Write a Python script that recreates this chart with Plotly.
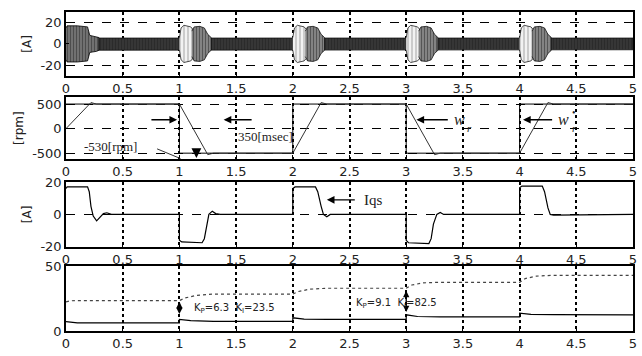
import plotly.graph_objects as go
from plotly.subplots import make_subplots

# ---------------- data ----------------
x_ticks = [0, 0.5, 1, 1.5, 2, 2.5, 3, 3.5, 4, 4.5, 5]
x_ticklabels = ["0", "0.5", "1", "1.5", "2", "2.5", "3", "3.5", "4", "4.5", "5"]

# phase current envelope (A)
steady_t = [0.0, 0.3, 1.0, 1.3, 2.0, 2.3, 3.0, 3.3, 4.0, 4.3, 5.0]
steady_amp = [6.0, 5.5, 5.5, 5.5, 5.5, 5.5, 5.5, 5.5, 5.5, 5.5, 5.5]
start_off = [0.0, 0.01, 0.1, 0.19, 0.21, 0.27, 0.29]
start_amp = [15.0, 17.0, 17.0, 16.0, 8.0, 7.0, 6.0]
trans_start = [1.0, 2.0, 3.0, 4.0]
lobe_off = [0.0, 0.015, 0.04, 0.07, 0.1, 0.125]
lobe_amp = [6.0, 15.0, 17.5, 17.0, 16.0, 13.0]
dense_off = [0.11, 0.13, 0.18, 0.22, 0.25, 0.28]
dense_amp = [12.0, 16.0, 16.5, 15.0, 9.0, 6.0]

# speed (rpm)
wref_t = [0, 1, 1, 2, 2, 3, 3, 4, 4, 5]
wref = [500, 500, -500, -500, 500, 500, -500, -500, 500, 500]
w_t = [0, 0.22, 0.27, 1.0, 1.25, 1.3, 2.0, 2.25, 2.3, 3.0, 3.25, 3.3, 4.0, 4.25, 4.3, 5.0]
w = [0, 530, 500, 500, -530, -500, -500, 530, 500, 500, -530, -500, -500, 530, 500, 500]

# q-axis current (A)
iqs_t = [0, 0.01, 0.19, 0.205, 0.22, 0.24, 0.27, 0.3, 0.33, 0.36, 0.4,
         1.0, 1.0, 1.02, 1.2, 1.22, 1.24, 1.26, 1.29, 1.32, 1.36,
         2.0, 2.0, 2.02, 2.2, 2.22, 2.25, 2.27, 2.3, 2.33,
         3.0, 3.0, 3.02, 3.2, 3.22, 3.24, 3.27, 3.3, 3.33,
         4.0, 4.0, 4.02, 4.2, 4.22, 4.25, 4.27, 4.3, 5.0]
iqs = [16, 17, 17, 14, 5, -1, -4, -2, 0.5, 1, 0,
       0, -16, -17, -17.5, -15, -6, 0, 2, 0.5, 0,
       0, 16, 17, 17, 14, 5, 0, -1.5, 0,
       0, -16, -17.5, -18, -15, -6, 0, 1.2, 0,
       0, 16.5, 17.5, 17.5, 14, 4, 0, -0.5, 0]

# controller gains
kp_t = [0, 0.03, 0.1, 1.0, 1.0, 1.1, 1.3, 2.0, 2.0, 2.1, 2.3, 3.0, 3.0, 3.1, 3.3, 4.0, 4.0, 4.1, 4.3, 5.0]
kp = [7.2, 6.8, 6.3, 6.3, 9.0, 8.0, 7.5, 7.5, 10.2, 9.2, 8.9, 8.9, 12.5, 11.2, 10.9, 10.9, 13.8, 12.9, 12.6, 12.4]
ki_t = [0, 0.04, 0.1, 1.0, 1.05, 1.15, 1.3, 2.0, 2.05, 2.15, 2.3, 3.0, 3.05, 3.15, 3.3, 4.0, 4.05, 4.15, 4.3, 5.0]
ki = [22.5, 23.3, 23.5, 23.5, 25.5, 27.5, 28.5, 28.5, 30.5, 32.3, 33, 33, 35.5, 37.2, 37.6, 37.6, 40.5, 42.4, 43, 43]

# ---------------- figure ----------------
fig = make_subplots(rows=4, cols=1)


def band(tt, aa):
    xs = list(tt) + list(tt)[::-1]
    ys = list(aa) + [-a for a in list(aa)[::-1]]
    return xs, ys


# subplot 1: phase currents
bx, by = band(steady_t, steady_amp)
fig.add_trace(go.Scatter(x=bx, y=by, fill="toself", mode="lines",
                         line=dict(color="#111", width=0.8),
                         fillpattern=dict(shape="|", fgcolor="#111", bgcolor="#444",
                                          size=3, solidity=0.7),
                         hoverinfo="skip"), row=1, col=1)
bx, by = band(start_off, start_amp)
fig.add_trace(go.Scatter(x=bx, y=by, fill="toself", mode="lines",
                         line=dict(color="black", width=0.8),
                         fillpattern=dict(shape="|", fgcolor="#111", bgcolor="#888",
                                          size=3, solidity=0.6),
                         hoverinfo="skip"), row=1, col=1)
for s in trans_start:
    bx, by = band([s + o for o in lobe_off], lobe_amp)
    fig.add_trace(go.Scatter(x=bx, y=by, fill="toself", mode="lines",
                             line=dict(color="#222", width=0.8),
                             fillpattern=dict(shape="|", fgcolor="#555", bgcolor="#f2f2f2",
                                              size=4, solidity=0.25),
                             hoverinfo="skip"), row=1, col=1)
    bx, by = band([s + o for o in dense_off], dense_amp)
    fig.add_trace(go.Scatter(x=bx, y=by, fill="toself", mode="lines",
                             line=dict(color="black", width=0.7),
                             fillpattern=dict(shape="|", fgcolor="#111", bgcolor="#999",
                                              size=3, solidity=0.55),
                             hoverinfo="skip"), row=1, col=1)

# subplot 2: speed
fig.add_trace(go.Scatter(x=wref_t, y=wref, mode="lines",
                         line=dict(color="black", width=1.0)), row=2, col=1)
fig.add_trace(go.Scatter(x=w_t, y=w, mode="lines",
                         line=dict(color="#333", width=1.0)), row=2, col=1)

# subplot 3: iqs
fig.add_trace(go.Scatter(x=iqs_t, y=iqs, mode="lines",
                         line=dict(color="black", width=1.2)), row=3, col=1)

# subplot 4: gains
fig.add_trace(go.Scatter(x=ki_t, y=ki, mode="lines",
                         line=dict(color="#444", width=1.2, dash="dot")), row=4, col=1)
fig.add_trace(go.Scatter(x=kp_t, y=kp, mode="lines",
                         line=dict(color="black", width=1.2)), row=4, col=1)

# ---------------- axes ----------------
domains = [[0.80, 1.0], [0.539, 0.733], [0.264, 0.467], [0.0, 0.203]]
y_ranges = [[-30, 30], [-620, 640], [-20, 20], [0, 50]]
y_ticks = [[-20, 0, 20], [-500, 0, 500], [-20, 0, 20], [0, 50]]
y_titles = ["[A]", "[rpm]", "[A]", ""]

tickfont = dict(family="DejaVu Sans", size=13, color="#222")
for i in range(4):
    fig.update_xaxes(row=i + 1, col=1, range=[0, 5], tickvals=x_ticks, ticktext=x_ticklabels,
                     showgrid=True, gridcolor="black", griddash="dot", gridwidth=1.6,
                     showline=True, mirror=True, linecolor="black", linewidth=1.5,
                     ticks="inside", ticklen=4, tickcolor="black", zeroline=False,
                     tickfont=tickfont, ticklabeloverflow="allow")
    fig.update_yaxes(row=i + 1, col=1, domain=domains[i], range=y_ranges[i],
                     tickvals=y_ticks[i], ticktext=[str(v) for v in y_ticks[i]],
                     showgrid=True, gridcolor="black", griddash="dash", gridwidth=1,
                     showline=True, mirror=True, linecolor="black", linewidth=1.5,
                     ticks="inside", ticklen=3, tickcolor="black", zeroline=False,
                     tickfont=tickfont,
                     title=dict(text=y_titles[i], font=dict(family="DejaVu Sans", size=12, color="#222"),
                                standoff=6))

# ---------------- annotations ----------------
serif = dict(family="Liberation Serif", size=13, color="#222")
ann = []


def arrow(xref, yref, x, y, ax, ay, side="end", size=1.1):
    ann.append(dict(xref=xref, yref=yref, axref=xref, ayref=yref, x=x, y=y, ax=ax, ay=ay,
                    text="", showarrow=True, arrowhead=2, arrowsize=size, arrowwidth=1.4,
                    arrowcolor="black", arrowside=side))


def text(xref, yref, x, y, t, font=serif, xanchor="left"):
    ann.append(dict(xref=xref, yref=yref, x=x, y=y, text=t, showarrow=False,
                    font=font, xanchor=xanchor, yanchor="middle"))


# speed annotations
arrow("x2", "y2", 0.98, 180, 0.74, 180)
arrow("x2", "y2", 1.39, 180, 1.65, 180)
text("x2", "y2", 1.5, -160, "350[msec]")
text("x2", "y2", 0.14, -360, "-530[rpm]")
ann.append(dict(xref="x2", yref="y2", axref="x2", ayref="y2", x=1.01, y=-610, ax=0.79, ay=-400,
                text="", showarrow=True, arrowhead=0, arrowwidth=1, arrowcolor="#333"))
arrow("x2", "y2", 1.15, -600, 1.15, -480, size=1.4)
arrow("x2", "y2", 3.09, 180, 3.38, 180)
text("x2", "y2", 3.4, 180, "<i>w</i>", font=dict(family="Liberation Serif", size=16, color="#222"))
text("x2", "y2", 3.52, 10, "<i>r</i>", font=dict(family="Liberation Serif", size=11, color="#222"))
arrow("x2", "y2", 4.03, 180, 4.3, 180)
text("x2", "y2", 4.32, 180, "<i>w</i>", font=dict(family="Liberation Serif", size=16, color="#222"))
text("x2", "y2", 4.44, 330, "•", font=dict(family="Liberation Serif", size=10, color="#222"))
text("x2", "y2", 4.44, 10, "<i>r</i>", font=dict(family="Liberation Serif", size=11, color="#222"))

# iqs annotation
arrow("x3", "y3", 2.3, 9, 2.56, 9)
text("x3", "y3", 2.61, 9, "Iqs", font=dict(family="Liberation Serif", size=15, color="#222"))

# gains annotations
arrow("x4", "y4", 1.0, 22.5, 1.0, 12, side="end+start", size=0.9)
arrow("x4", "y4", 3.0, 31, 3.0, 13.5, side="end+start", size=0.9)
sans = dict(family="DejaVu Sans", size=10, color="#222")
text("x4", "y4", 1.11, 17.5, "K<sub>P</sub>=6.3  K<sub>I</sub>=23.5", font=sans)
text("x4", "y4", 2.54, 21, "K<sub>P</sub>=9.1  K<sub>I</sub>=82.5", font=sans)

fig.update_layout(width=642, height=356, margin=dict(l=66, r=5, t=6, b=20),
                  paper_bgcolor="white", plot_bgcolor="white", showlegend=False,
                  annotations=ann)

fig.write_html("out.html", config={"displayModeBar": False},
               post_script="document.body.style.margin='0';document.body.style.overflow='hidden';")
